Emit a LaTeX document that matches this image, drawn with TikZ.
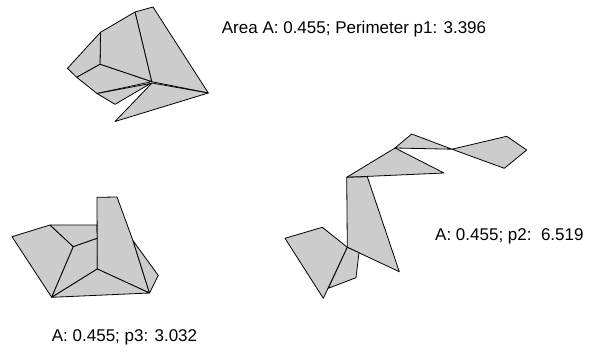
\documentclass[tikz,border=0pt]{standalone}
\usepackage{fontspec}
\setmainfont{Liberation Sans}
\definecolor{piecegray}{RGB}{204,204,204}
\begin{document}
\begin{tikzpicture}[x=1pt,y=-1pt,
  piece/.style={draw=black,fill=piecegray,line width=0.8pt,line join=round},
  label/.style={anchor=base west,inner sep=0pt,font=\fontsize{17}{20}\selectfont}]
\useasboundingbox (0,0) rectangle (589,356);
% shape 1
\draw[piece] (135,12) -- (153,7) -- (208.3,93) -- (151.7,81.7) -- cycle;
\draw[piece] (100.5,32.3) -- (135,12) -- (151.7,81.7) -- (100,64.3) -- cycle;
\draw[piece] (67.5,68.3) -- (100.5,32.3) -- (100,64.3) -- (76.7,77.3) -- cycle;
\draw[piece] (76.7,77.3) -- (100,64.3) -- (151.7,81.7) -- (97,93.5) -- cycle;
\draw[piece] (97,93.5) -- (150.5,83.5) -- (115,104.3) -- cycle;
\draw[piece] (152,83) -- (208.3,93) -- (115,121.5) -- cycle;
% shape 3
\draw[piece] (12,236.7) -- (50,225) -- (73.3,246.7) -- (51.7,297.3) -- cycle;
\draw[piece] (50,225) -- (97,225) -- (97.3,238.3) -- (73.3,246.7) -- cycle;
\draw[piece] (73.3,246.7) -- (97.3,238.3) -- (97.3,269) -- (51.7,297.3) -- cycle;
\draw[piece] (97,197.3) -- (117,197) -- (133,240.7) -- (149.5,293) -- (97.3,269) -- cycle;
\draw[piece] (133,240.7) -- (158.3,275.5) -- (149.5,293) -- cycle;
\draw[piece] (51.7,297.3) -- (97.3,269) -- (149.5,293) -- cycle;
% shape 2
\draw[piece] (411.7,134) -- (395,148) -- (452,149.2) -- cycle;
\draw[piece] (452,149.2) -- (506.7,136.3) -- (526.7,150) -- (504.3,168.3) -- cycle;
\draw[piece] (395,148) -- (444,173) -- (346.7,177.3) -- cycle;
\draw[piece] (346.7,177.3) -- (367.3,176.7) -- (399.3,271.7) -- (347.3,247.3) -- cycle;
\draw[piece] (285,238.3) -- (322.3,227.3) -- (347.3,247.3) -- (323.3,298.3) -- cycle;
\draw[piece] (347.3,247.3) -- (359,252.7) -- (356,277.7) -- (328.3,288.3) -- cycle;
% labels
\node[label] (t1) at (221.7,33.3) {Area A: 0.455; Perimeter p1: 3.396};
\node[label] (t3) at (51.7,341.7) {A: 0.455; p3: 3.032};
\node[label] (t2) at (435,240) {A: 0.455; p2:\ \ 6.519};
\end{tikzpicture}
\end{document}
